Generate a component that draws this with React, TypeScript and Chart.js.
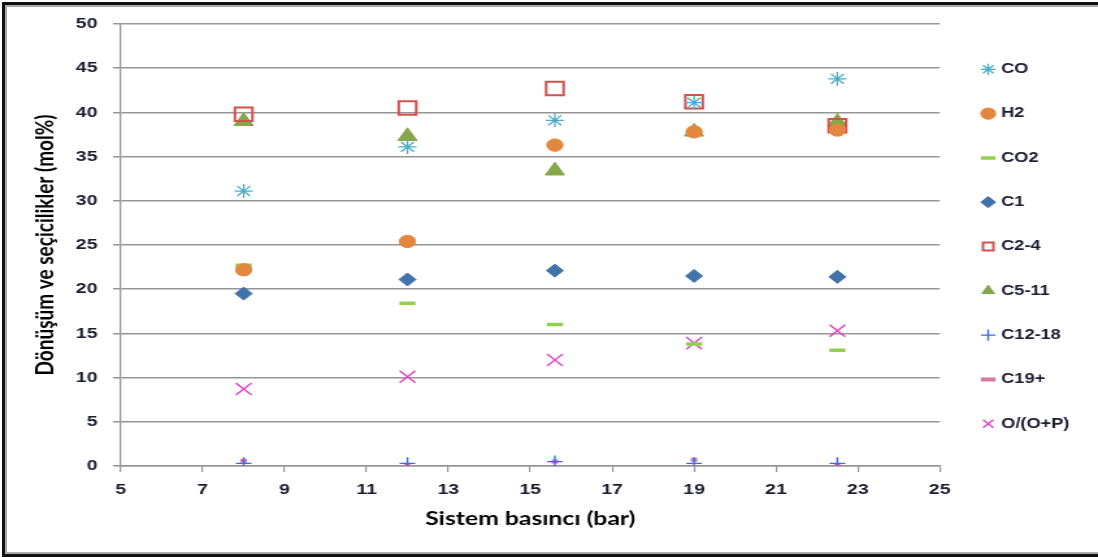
import React, { useEffect, useRef } from 'react';
import { Chart, registerables } from 'chart.js';

Chart.register(...registerables);

// Sistem basıncı (bar)
const pressure = [8, 12, 15.6, 19, 22.5];

// Series values (mol%)
const coValues = [31.1, 36.1, 39.1, 41.1, 43.8];
const h2Values = [22.2, 25.4, 36.3, 37.8, 38.0];
const co2Values = [22.7, 18.4, 16.0, 13.8, 13.1];
const c1Values = [19.5, 21.1, 22.1, 21.5, 21.4];
const c24Values = [39.8, 40.5, 42.7, 41.2, 38.5];
const c511Values = [39.0, 37.3, 33.4, 37.8, 38.9];
const c1218Values = [0.3, 0.3, 0.5, 0.3, 0.3];
const c19Values = [0.6, 0.1, 0.5, 0.7, 0.1];
const opValues = [8.7, 10.1, 12.0, 13.9, 15.3];

const seriesNames = ['CO', 'H2', 'CO2', 'C1', 'C2-4', 'C5-11', 'C12-18', 'C19+', 'O/(O+P)'];

const xMin = 5;
const xMax = 25;
const xStep = 2;
const yMin = 0;
const yMax = 50;
const yStep = 5;

const xTitle = 'Sistem basıncı (bar)';
const yTitle = 'Dönüşüm ve seçicilikler (mol%)';

// The reference picture is stretched horizontally; the chart is drawn narrower and scaled.
const STRETCH = 1.3;
const FULL_W = 1098;
const FULL_H = 557;
const CANVAS_W = Math.round(FULL_W / STRETCH);

const toPoints = (vals: number[]) => vals.map((v, i) => ({ x: pressure[i], y: v }));

const legendShift = {
  id: 'legendShift',
  afterLayout(chart: any) {
    const l = chart.legend;
    if (!l) return;
    l.left += 4;
    l.right += 4;
    l.top -= 44;
    l.bottom -= 44;
  },
};

export default function App() {
  const canvasRef = useRef<HTMLCanvasElement | null>(null);

  useEffect(() => {
    if (!canvasRef.current) return;
    const tickFont = { family: 'Liberation Sans', size: 15, weight: 'bold' as const };
    const titleFont = { family: 'Lato', size: 19, weight: 'bold' as const };
    const textColor = '#1c1c30';
    const gridColor = '#959595';

    const chart = new Chart(canvasRef.current, {
      type: 'scatter',
      data: {
        datasets: [
          {
            label: seriesNames[0], data: toPoints(coValues), pointStyle: 'star',
            pointRadius: 7, borderColor: '#4bacc6', backgroundColor: '#4bacc6', borderWidth: 1.3,
          },
          {
            label: seriesNames[1], data: toPoints(h2Values), pointStyle: 'circle',
            pointRadius: 6.2, borderColor: '#e3873f', backgroundColor: '#e3873f', borderWidth: 1,
          },
          {
            label: seriesNames[2], data: toPoints(co2Values), pointStyle: 'line',
            pointRadius: 6.2, borderColor: '#92d050', backgroundColor: '#92d050', borderWidth: 3.5,
          },
          {
            label: seriesNames[3], data: toPoints(c1Values), pointStyle: 'rectRot',
            pointRadius: 6.5, borderColor: '#4272aa', backgroundColor: '#4272aa', borderWidth: 1,
          },
          {
            label: seriesNames[4], data: toPoints(c24Values), pointStyle: 'rect',
            pointRadius: 9.5, borderColor: '#d4504c', backgroundColor: 'rgba(255,255,255,0)', borderWidth: 2,
          },
          {
            label: seriesNames[5], data: toPoints(c511Values), pointStyle: 'triangle',
            pointRadius: 8.5, borderColor: '#86a64a', backgroundColor: '#86a64a', borderWidth: 1,
          },
          {
            label: seriesNames[6], data: toPoints(c1218Values), pointStyle: 'cross',
            pointRadius: 6, borderColor: '#3a6af0', backgroundColor: '#3a6af0', borderWidth: 1.4,
          },
          {
            label: seriesNames[7], data: toPoints(c19Values), pointStyle: 'line',
            pointRadius: 2.5, borderColor: '#d07aa0', backgroundColor: '#d07aa0', borderWidth: 4,
          },
          {
            label: seriesNames[8], data: toPoints(opValues), pointStyle: 'crossRot',
            pointRadius: 8.5, borderColor: '#e040c8', backgroundColor: '#e040c8', borderWidth: 1.4,
          },
        ],
      },
      options: {
        animation: false,
        responsive: false,
        layout: { padding: { left: 0, right: 16, top: 24, bottom: 0 } },
        plugins: {
          tooltip: { enabled: false },
          legend: {
            position: 'right',
            labels: {
              usePointStyle: true,
              boxWidth: 6,
              boxHeight: 8,
              padding: 30.3,
              font: { family: 'Liberation Sans', size: 14, weight: 'bold' },
              color: textColor,
            },
          },
        },
        scales: {
          x: {
            type: 'linear',
            min: xMin,
            max: xMax,
            afterFit: (scale: any) => { scale.height = 91; },
            ticks: { stepSize: xStep, font: tickFont, color: textColor, padding: 9 },
            grid: { display: true, drawOnChartArea: false, drawTicks: true, tickLength: 6, color: gridColor, lineWidth: 1.2 },
            border: { display: true, color: gridColor, width: 1.5 },
            title: { display: true, text: xTitle, font: titleFont, color: '#000', padding: { top: 0, bottom: 27 } },
          },
          y: {
            type: 'linear',
            min: yMin,
            max: yMax,
            afterFit: (scale: any) => { scale.width = 93; },
            ticks: { stepSize: yStep, font: tickFont, color: textColor, padding: 12 },
            grid: { display: true, drawTicks: true, tickLength: 6, color: gridColor, lineWidth: 1.5 },
            border: { display: true, color: gridColor, width: 1.3 },
            title: { display: true, text: yTitle, font: titleFont, color: '#000', padding: { top: 23, bottom: 0 } },
          },
        },
      },
      plugins: [legendShift],
    });
    return () => chart.destroy();
  }, []);

  return (
    <div style={{ position: 'fixed', left: 0, top: 0, width: FULL_W, height: FULL_H, background: '#fff', overflow: 'hidden' }}>
      <div style={{ position: 'absolute', left: 0, top: 0, width: CANVAS_W, height: FULL_H, transform: `scaleX(${FULL_W / CANVAS_W})`, transformOrigin: '0 0' }}>
        <canvas ref={canvasRef} width={CANVAS_W} height={FULL_H} style={{ display: 'block' }} />
      </div>
      <div
        style={{
          position: 'absolute', left: 2, top: 2, width: 1200, height: 555, boxSizing: 'border-box',
          borderTop: '3px solid #111', borderLeft: '3px solid #111', borderBottom: '3px solid #111',
          boxShadow: 'inset 2px 2px 0 0 #aaa, inset 0 -2px 0 0 #aaa', pointerEvents: 'none',
        }}
      />
    </div>
  );
}
